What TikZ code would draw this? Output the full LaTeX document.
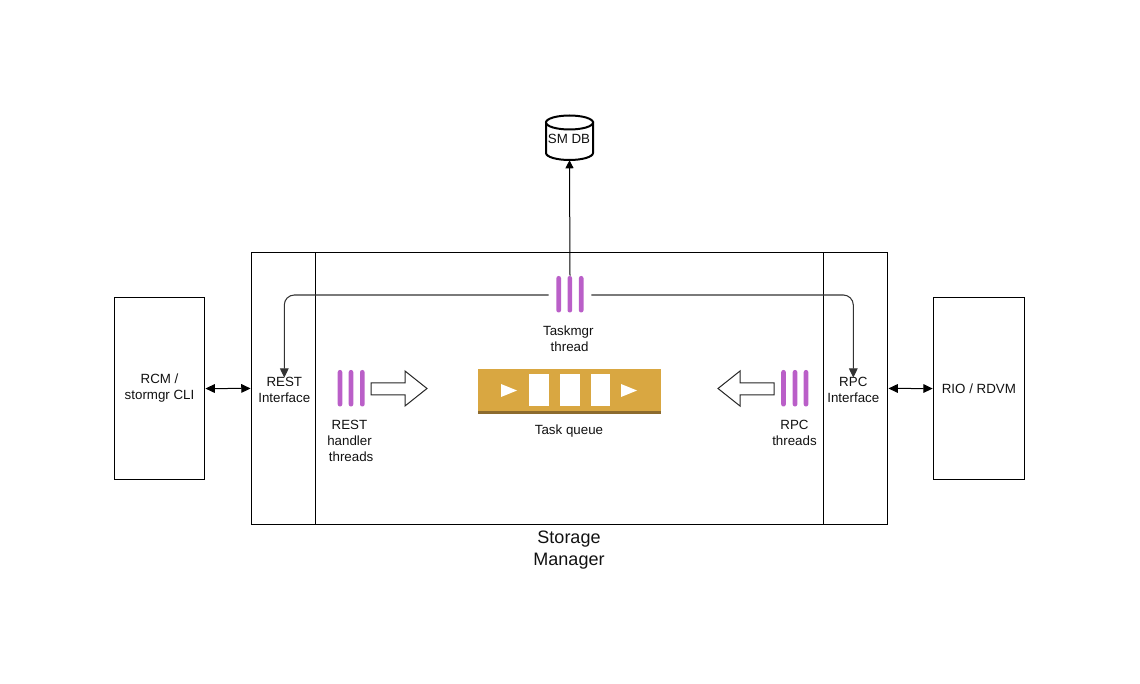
\documentclass[tikz,border=0pt]{standalone}
\usepackage{fontspec}
\setmainfont{Liberation Sans}
\usetikzlibrary{arrows.meta}
\definecolor{threadc}{HTML}{BA5FC8}
\definecolor{queuec}{HTML}{D9A741}
\definecolor{queued}{HTML}{8C6B2E}
\definecolor{elbow}{HTML}{333333}
\definecolor{txt}{HTML}{111111}
\tikzset{
  every node/.style={font=\fontsize{10}{12}\selectfont, text=txt},
  box/.style={draw=black, line width=.85pt, rectangle, inner sep=0pt, align=center},
  lbl/.style={align=center, inner sep=0pt},
  threadset/.style={rectangle, inner sep=0pt, minimum height=28.5pt},
  bar/.style={fill=threadc, draw=none, rounded corners=1.6pt},
  link/.style={draw=black, line width=.75pt, -{Triangle[length=6pt,width=6pt]}},
  twoway/.style={draw=black, line width=.75pt, {Triangle[length=7pt,width=6.5pt]}-{Triangle[length=7pt,width=6.5pt]}},
  elbowlink/.style={draw=elbow, line width=.8pt, rounded corners=7.5pt, -{Triangle[length=7pt,width=6.5pt]}},
  blockarrow/.style={draw=black!85, line width=.75pt, fill=white, line join=miter},
  queueslot/.style={fill=white, draw=none},
}
\begin{document}
\begin{tikzpicture}[x=.75pt,y=-.75pt]
\useasboundingbox (0,0) rectangle (1140,684);
% frames
\node[box, minimum width=477.4pt, minimum height=204.4pt] (sm) at (569.45,388.45) {};
\node[box, minimum width=48pt, minimum height=204.4pt] (restif) at (283.15,388.45) {};
\node[box, minimum width=48pt, minimum height=204.4pt] (rpcif) at (855.9,388.45) {};
\node[box, minimum width=68pt, minimum height=137pt] (rcm) at (159.55,388.55) {RCM /\\ stormgr CLI};
\node[box, minimum width=68.5pt, minimum height=137pt] (rio) at (978.9,388.55) {RIO / RDVM};
% labels
\node[lbl] (resttxt) at (284.3,390) {REST\\Interface};
\node[lbl] (rpctxt) at (853.3,390) {RPC\\Interface};
\node[lbl, font=\fontsize{13.5}{16.5}\selectfont] (smlbl) at (569,550) {Storage\\Manager};
\node[lbl] (tasklbl) at (568.3,339) {Taskmgr\\\hspace*{2pt}thread};
\node[lbl] (queuelbl) at (569,431) {Task queue};
\node[lbl] (restlbl) at (349.5,441) {REST\\handler\\\hspace*{2.5pt}threads};
\node[lbl] (rpclbl) at (794.5,433) {RPC\\threads};
% database
\node[rectangle, inner sep=0pt, minimum width=35.25pt, minimum height=33.75pt] (db) at (569.5,137.5) {};
\draw[line width=1.5pt, draw=black, fill=white]
  (546,122.5) -- (546,153) arc[start angle=180, end angle=0, x radius=23.5, y radius=7] -- (593,122.5) -- cycle;
\draw[line width=1.5pt, draw=black, fill=white]
  (569.5,122.5) ellipse[x radius=23.5, y radius=7];
\node[lbl] (dblbl) at (569,139) {SM DB};
% threads
\node[threadset, minimum width=31.5pt] (taskmgr) at (570,295) {};
\foreach \x in {558.7,569.8,581.2} \fill[bar] (\x-2.3,276) rectangle (\x+2.3,312.5);
\node[threadset, minimum width=20pt] (restth) at (351,388.5) {};
\foreach \x in {340,351,362.3} \fill[bar] (\x-2.3,370) rectangle (\x+2.3,406.5);
\node[threadset, minimum width=20pt] (rpcth) at (794.5,388.5) {};
\foreach \x in {783.5,795,806} \fill[bar] (\x-2.3,370) rectangle (\x+2.3,406.5);
% block arrows
\draw[blockarrow] (371,383) -- (405,383) -- (405,371) -- (427,388.5) -- (405,406) -- (405,395) -- (371,395) -- cycle;
\draw[blockarrow] (774,383) -- (740,383) -- (740,371) -- (718,388.5) -- (740,406) -- (740,395) -- (774,395) -- cycle;
% queue
\fill[queuec] (478,369) rectangle (661,411);
\fill[queued] (478,411) rectangle (661,414);
\fill[queueslot] (529,374) rectangle (548.5,406);
\fill[queueslot] (560,374) rectangle (579.5,406);
\fill[queueslot] (590.5,374) rectangle (610,406);
\fill[queueslot] (501,384) -- (517,390.5) -- (501,397) -- cycle;
\fill[queueslot] (621,384) -- (637,390.5) -- (621,397) -- cycle;
% connectors
\draw[link] (taskmgr.north) -- (db.south);
\draw[elbowlink] (taskmgr.west) -| ([yshift=-.5pt]resttxt.north);
\draw[elbowlink] (taskmgr.east) -| ([yshift=-.5pt]rpctxt.north);
\draw[twoway] (rcm.east) -- (restif.west);
\draw[twoway] (rpcif.east) -- (rio.west);
\end{tikzpicture}
\end{document}
